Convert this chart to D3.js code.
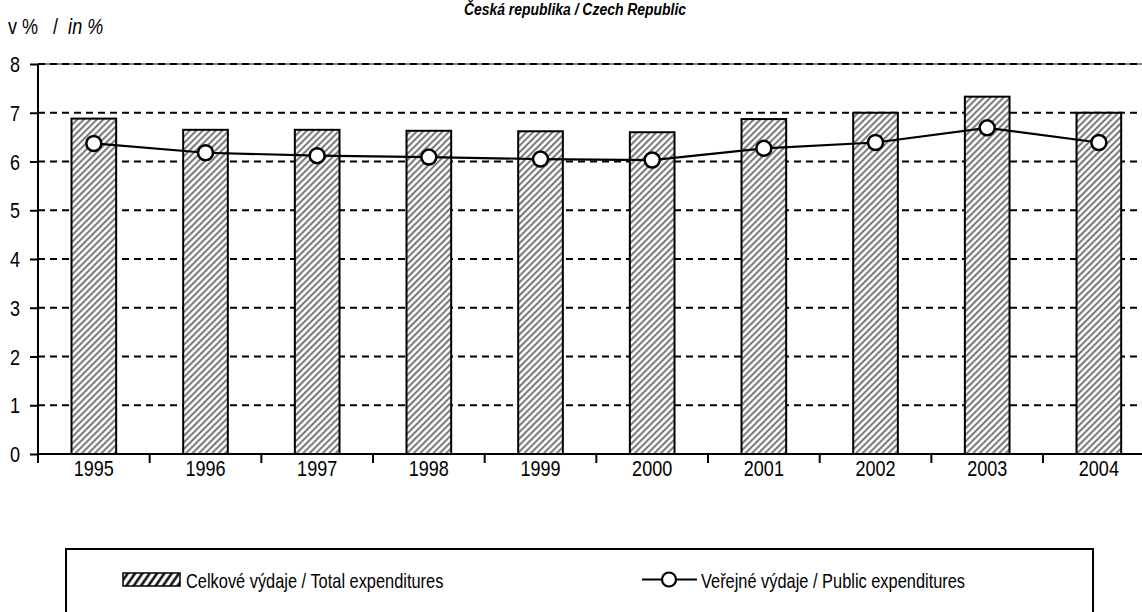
<!DOCTYPE html>
<html><head><meta charset="utf-8">
<script src="https://cdn.jsdelivr.net/npm/d3@7"></script>
<style>
html,body{margin:0;padding:0;background:#fff;overflow:hidden}
text{font-family:"Liberation Sans",Arial,sans-serif;fill:#000;white-space:pre}
</style></head>
<body>
<svg id="c" width="1142" height="612"></svg>
<script>
const years = ["1995","1996","1997","1998","1999","2000","2001","2002","2003","2004"];
const totalExp = [6.88,6.65,6.65,6.63,6.62,6.60,6.87,7.00,7.33,7.00];
const publicExp = [6.37,6.18,6.12,6.09,6.05,6.03,6.27,6.39,6.69,6.39];
const yTicks = [0,1,2,3,4,5,6,7,8];
const seriesNames = ["Celkové výdaje / Total expenditures","Veřejné výdaje / Public expenditures"];
const titleText = "Česká republika / Czech Republic";

const svg = d3.select("#c");
const left = 38, right = 1154.7, y0px = 454, y8px = 64;
const NARROW = 0.82;
const x = d3.scaleBand().domain(years).range([left, right]).padding(0);
const y = d3.scaleLinear().domain([0, 8]).range([y0px, y8px]);

function ntext(g, tx, ty, size, anchor){
  return g.append("text").attr("transform",`translate(${tx},${ty}) scale(${NARROW},1)`)
    .attr("text-anchor",anchor||"start").style("font-size",size+"px");
}

const defs = svg.append("defs");
defs.append("pattern").attr("id","hatch").attr("patternUnits","userSpaceOnUse")
  .attr("width",4.6).attr("height",4.6).attr("patternTransform","rotate(45)")
  .call(p=>{p.append("rect").attr("width",4.6).attr("height",4.6).attr("fill","#fff");
            p.append("line").attr("x1",1.2).attr("x2",1.2).attr("y1",0).attr("y2",4.6)
             .attr("stroke","#666").attr("stroke-width",1.8);});
defs.append("pattern").attr("id","hatchL").attr("patternUnits","userSpaceOnUse")
  .attr("width",6).attr("height",6).attr("patternTransform","rotate(35)")
  .call(p=>{p.append("rect").attr("width",6).attr("height",6).attr("fill","#fff");
            p.append("line").attr("x1",1.5).attr("x2",1.5).attr("y1",0).attr("y2",6)
             .attr("stroke","#000").attr("stroke-width",2.4);});

// title (reference shows it clipped at top; kept inside the frame here)
ntext(svg, 575, 15, 17, "middle").style("font-weight","bold").style("font-style","italic")
  .text(titleText);

// y unit label
const ul = ntext(svg, 8, 34, 22);
ul.append("tspan").text("v %   /  ");
ul.append("tspan").style("font-style","italic").text("in %");

// gridlines
svg.append("g").selectAll("line").data(yTicks.filter(d=>d>0)).join("line")
  .attr("x1",left).attr("x2",right).attr("y1",d=>y(d)).attr("y2",d=>y(d))
  .attr("stroke","#000").attr("stroke-width",2).attr("stroke-dasharray","7,5");
svg.append("line").attr("x1",left).attr("x2",right).attr("y1",y(8)).attr("y2",y(8))
  .attr("stroke","#000").attr("stroke-width",1);

// bars
const bw = x.bandwidth()*0.4;
svg.append("g").selectAll("rect").data(years).join("rect")
  .attr("x",d=>x(d)+(x.bandwidth()-bw)/2)
  .attr("y",(d,i)=>y(totalExp[i]))
  .attr("width",bw).attr("height",(d,i)=>y(0)-y(totalExp[i]))
  .attr("fill","url(#hatch)").attr("stroke","#000").attr("stroke-width",2);

// y axis
const yAxis = svg.append("g").attr("transform",`translate(${left},0)`)
  .call(d3.axisLeft(y).tickValues(yTicks).tickSize(8).tickFormat(""));
yAxis.select(".domain").attr("stroke-width",2).attr("d",`M0,${y0px}V${y8px}`);
yAxis.selectAll(".tick line").attr("stroke-width",2);
const yl = svg.append("g");
yTicks.forEach(d=>ntext(yl, 20, y(d)+8, 22, "end").text(d));

// x axis
const xAxis = svg.append("g").attr("transform",`translate(0,${y0px})`);
xAxis.append("line").attr("x1",left).attr("x2",right).attr("stroke","#000").attr("stroke-width",2);
xAxis.selectAll("line.tk").data(years.concat(["end"])).join("line").attr("class","tk")
  .attr("x1",(d,i)=>i<years.length?x(d):right).attr("x2",(d,i)=>i<years.length?x(d):right)
  .attr("y1",0).attr("y2",9).attr("stroke","#000").attr("stroke-width",2);
years.forEach(d=>ntext(xAxis, x(d)+x.bandwidth()/2, 21.5, 22, "middle").text(d));

// line series
const line = d3.line().x((d,i)=>x(years[i])+x.bandwidth()/2).y(d=>y(d));
svg.append("path").datum(publicExp).attr("d",line).attr("fill","none")
  .attr("stroke","#000").attr("stroke-width",2.2);
svg.append("g").selectAll("circle").data(publicExp).join("circle")
  .attr("cx",(d,i)=>x(years[i])+x.bandwidth()/2).attr("cy",d=>y(d)).attr("r",7.5)
  .attr("fill","#fff").attr("stroke","#000").attr("stroke-width",2.5);

// legend
const lg = svg.append("g");
lg.append("rect").attr("x",66).attr("y",549).attr("width",1027).attr("height",80)
  .attr("fill","none").attr("stroke","#000").attr("stroke-width",2);
lg.append("rect").attr("x",123).attr("y",573).attr("width",57).attr("height",13)
  .attr("fill","url(#hatchL)").attr("stroke","#000").attr("stroke-width",1.5);
ntext(lg, 186, 588, 20).text(seriesNames[0]);
lg.append("line").attr("x1",642).attr("x2",697).attr("y1",579.5).attr("y2",579.5)
  .attr("stroke","#000").attr("stroke-width",2);
lg.append("circle").attr("cx",669).attr("cy",579.5).attr("r",7)
  .attr("fill","#fff").attr("stroke","#000").attr("stroke-width",2.2);
ntext(lg, 701, 588, 20).text(seriesNames[1]);
</script>
</body></html>
